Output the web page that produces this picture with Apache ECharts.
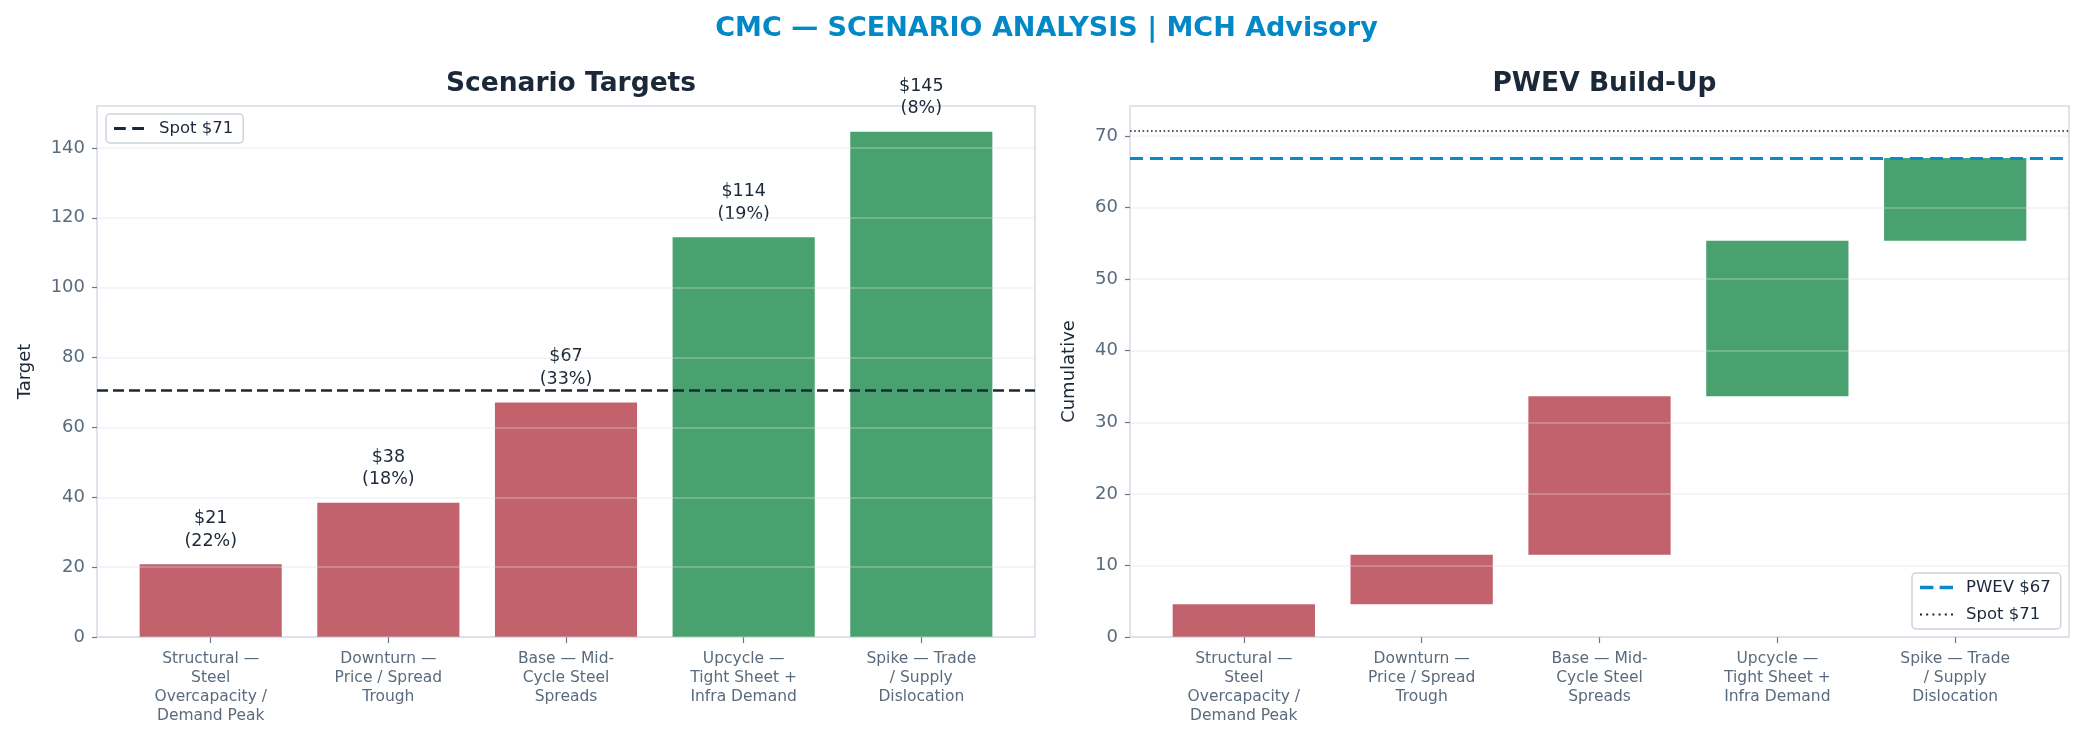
<!DOCTYPE html>
<html>
<head>
<meta charset="utf-8">
<script src="https://cdn.jsdelivr.net/npm/echarts@6/dist/echarts.min.js"></script>
<style>
html,body{margin:0;padding:0;background:#fff;}
#c{width:2083px;height:742px;}
</style>
</head>
<body>
<div id="c"></div>
<script>
// ---- data ----
const categories = [
  "Structural —\nSteel\nOvercapacity /\nDemand Peak",
  "Downturn —\nPrice / Spread\nTrough",
  "Base — Mid-\nCycle Steel\nSpreads",
  "Upcycle —\nTight Sheet +\nInfra Demand",
  "Spike — Trade\n/ Supply\nDislocation"
];
const targets = [20.8, 38.4, 67.1, 114.4, 144.6];
const probabilities = [22, 18, 33, 19, 8];
const targetLabels = ["$21", "$38", "$67", "$114", "$145"];
const spot = 70.75;
const pwev = 66.95;
const leftTicks = [0, 20, 40, 60, 80, 100, 120, 140];
const rightTicks = [0, 10, 20, 30, 40, 50, 60, 70];
const catPositions = [0, 1, 2, 3, 4];

// ---- styling ----
const RED = '#c1626c';
const GREEN = '#4aa170';
const DARK = '#1b2838';
const MUTED = '#5a6b7d';
const FONT = 'DejaVu Sans';
const GRID_W = 938;
const GRID_W2 = 939;
const BAR_W = GRID_W * 0.8 / 5.28;
const LEFT_MAX = 152;
const RIGHT_MAX = 74.2;

const colorFor = v => (v < spot ? RED : GREEN);

// waterfall derived from targets x probabilities
const contrib = targets.map((t, i) => t * probabilities[i] / 100);
const bases = [];
let acc = 0;
contrib.forEach(c => { bases.push(acc); acc += c; });

const DASH_ICON = 'path://M0,0H11V3H0Z M17,0H28V3H17Z';
const BLUE_DASH_ICON = 'path://M0,0H13V3.4H0Z M19,0H32V3.4H19Z';
const DOT_ICON = 'path://M0,0H1.6V1.6H0Z M5,0H6.6V1.6H5Z M10,0H11.6V1.6H10Z M15,0H16.6V1.6H15Z M20,0H21.6V1.6H20Z M25,0H26.6V1.6H25Z';

const chart = echarts.init(document.getElementById('c'), null, {renderer: 'canvas'});

function xAxisFor(gridIndex) {
  return {
    type: 'value', gridIndex, min: -0.64, max: 4.64,
    axisLine: {show: false, onZero: false},
    splitLine: {show: false},
    axisTick: {show: true, customValues: catPositions, length: 6, lineStyle: {color: '#6b7785', width: 1.2}},
    axisLabel: {
      customValues: catPositions, margin: 12,
      formatter: v => categories[Math.round(v)] || '',
      color: MUTED, fontFamily: FONT, fontSize: 15.5, lineHeight: 19, align: 'center'
    }
  };
}
function yAxisFor(gridIndex, max, ticks, name, gap) {
  return {
    type: 'value', gridIndex, min: 0, max, z: 3,
    name, nameLocation: 'middle', nameGap: gap,
    nameTextStyle: {color: DARK, fontFamily: FONT, fontSize: 18},
    axisLine: {show: false, onZero: false},
    axisTick: {show: true, customValues: ticks, length: 5, lineStyle: {color: '#6b7785', width: 1.2}},
    axisLabel: {customValues: ticks, color: MUTED, fontFamily: FONT, fontSize: 18, margin: 12},
    splitLine: {show: true, lineStyle: {color: 'rgba(215,222,230,0.4)', width: 1.5}}
  };
}

const option = {
  backgroundColor: '#ffffff',
  animation: false,
  textStyle: {fontFamily: FONT},
  title: [
    {text: 'CMC — SCENARIO ANALYSIS | MCH Advisory', left: 1041.5, top: 10, textAlign: 'center',
     textStyle: {color: '#0288c7', fontFamily: FONT, fontWeight: 'bold', fontSize: 27}},
    {text: 'Scenario Targets', left: 566, top: 66, textAlign: 'center',
     textStyle: {color: DARK, fontFamily: FONT, fontWeight: 'bold', fontSize: 26.5}},
    {text: 'PWEV Build-Up', left: 1599.5, top: 66, textAlign: 'center',
     textStyle: {color: DARK, fontFamily: FONT, fontWeight: 'bold', fontSize: 26.5}}
  ],
  grid: [
    {left: 97, top: 106, width: GRID_W, height: 531, show: true, borderColor: '#d5dce6', borderWidth: 1.5, backgroundColor: '#fff'},
    {left: 1130, top: 106, width: GRID_W2, height: 531, show: true, borderColor: '#d5dce6', borderWidth: 1.5, backgroundColor: '#fff'},
    // inner grid spanning the category slots (x from -0.5 to 4.5 of the outer -0.64..4.64 range)
    {left: 1130 + GRID_W2 * 0.14 / 5.28, top: 106, width: GRID_W2 * 5 / 5.28, height: 531, show: false}
  ],
  legend: [
    {data: [{name: 'Spot $71', icon: DASH_ICON}], left: 106, top: 114, orient: 'vertical',
     itemWidth: 30, itemHeight: 14, padding: [6, 10, 6, 8], itemGap: 6,
     borderColor: '#cfd3d8', borderWidth: 1.5, borderRadius: 4, backgroundColor: '#fff',
     textStyle: {color: DARK, fontFamily: FONT, fontSize: 16.5, padding: [0, 0, 0, 10]}},
    {data: [{name: 'PWEV $67', icon: BLUE_DASH_ICON}, {name: 'Spot $71 ', icon: DOT_ICON}],
     left: 1912, top: 573, orient: 'vertical',
     itemWidth: 33, itemHeight: 14, padding: [6, 10, 6, 8], itemGap: 10,
     borderColor: '#cfd3d8', borderWidth: 1.5, borderRadius: 4, backgroundColor: '#fff',
     textStyle: {color: DARK, fontFamily: FONT, fontSize: 16.5, padding: [0, 0, 0, 8]}}
  ],
  xAxis: [
    xAxisFor(0), xAxisFor(1),
    {type: 'category', gridIndex: 2, data: categories, show: false}
  ],
  yAxis: [
    yAxisFor(0, LEFT_MAX, leftTicks, 'Target', 63),
    yAxisFor(1, RIGHT_MAX, rightTicks, 'Cumulative', 52),
    {type: 'value', gridIndex: 2, min: 0, max: RIGHT_MAX, show: false, splitLine: {show: false}}
  ],
  series: [
    {
      type: 'bar', xAxisIndex: 0, yAxisIndex: 0, barWidth: BAR_W,
      data: targets.map((v, i) => ({value: [catPositions[i], v], itemStyle: {color: colorFor(v)}})),
      label: {
        show: true, position: 'top', distance: 12,
        formatter: p => targetLabels[p.dataIndex] + '\n(' + probabilities[p.dataIndex] + '%)',
        color: DARK, fontFamily: FONT, fontSize: 17.5, lineHeight: 22.5, align: 'center'
      }
    },
    {
      name: 'Spot $71', type: 'line', xAxisIndex: 0, yAxisIndex: 0, data: [], symbol: 'none',
      itemStyle: {color: DARK},
      lineStyle: {color: DARK, width: 2.5, type: [11, 5]},
      markLine: {symbol: 'none', silent: true, label: {show: false}, z: 6,
        lineStyle: {color: DARK, width: 2.5, type: [11, 5]},
        data: [{yAxis: spot}]}
    },
    {
      type: 'bar', xAxisIndex: 2, yAxisIndex: 2, stack: 'wf', barWidth: '80%',
      itemStyle: {color: 'rgba(0,0,0,0)'}, silent: true,
      data: bases
    },
    {
      type: 'bar', xAxisIndex: 2, yAxisIndex: 2, stack: 'wf', barWidth: '80%',
      data: contrib.map((c, i) => ({value: c, itemStyle: {color: colorFor(targets[i])}}))
    },
    {
      name: 'PWEV $67', type: 'line', xAxisIndex: 1, yAxisIndex: 1, data: [], symbol: 'none',
      itemStyle: {color: '#0a8ac8'},
      lineStyle: {color: '#0a8ac8', width: 3.2, type: [13, 7]},
      markLine: {symbol: 'none', silent: true, label: {show: false}, z: 6,
        lineStyle: {color: '#0a8ac8', width: 3.2, type: [13, 7]},
        data: [{yAxis: pwev}]}
    },
    {
      name: 'Spot $71 ', type: 'line', xAxisIndex: 1, yAxisIndex: 1, data: [], symbol: 'none',
      itemStyle: {color: '#222'},
      lineStyle: {color: '#222', width: 1.6, type: [1.6, 2.6]},
      markLine: {symbol: 'none', silent: true, label: {show: false}, z: 6,
        lineStyle: {color: '#222', width: 1.6, type: [1.6, 2.6]},
        data: [{yAxis: spot}]}
    }
  ]
};
chart.setOption(option);
</script>
</body>
</html>
